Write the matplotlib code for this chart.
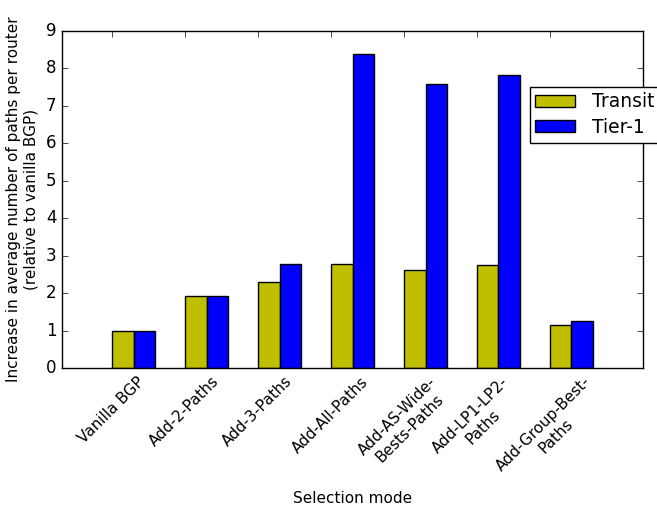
import matplotlib
matplotlib.use("Agg")
import matplotlib.pyplot as plt
import numpy as np

plt.style.use("classic")

modes = ["Vanilla BGP", "Add-2-Paths", "Add-3-Paths", "Add-All-Paths",
         "Add-AS-Wide-\nBests-Paths", "Add-LP1-LP2-\nPaths", "Add-Group-Best-\nPaths"]
transit = [1.00, 1.92, 2.29, 2.78, 2.62, 2.75, 1.15]
tier1 = [1.00, 1.94, 2.78, 8.39, 7.58, 7.83, 1.26]

width = 0.3
ind = np.arange(len(modes))

fig = plt.figure(figsize=(6.57, 5.08), dpi=100, facecolor="white")
ax = fig.add_axes([0.0944, 0.275, 0.8843, 0.6646])

ax.bar(ind, transit, width, align="edge", color="y", edgecolor="black", label="Transit")
ax.bar(ind + width, tier1, width, align="edge", color="b", edgecolor="black", label="Tier-1")

ax.set_xlim(-0.68, 7.28)
ax.set_ylim(0, 9)
ax.set_xticks(ind)
ax.set_xticklabels(modes, rotation=45, ha="center", fontsize=11)
ax.tick_params(axis="y", labelsize=12)
ax.set_xlabel("Selection mode", fontsize=11, labelpad=3)
ax.set_ylabel("Increase in average number of paths per router\n(relative to vanilla BGP)",
              fontsize=11)

leg = ax.legend(loc="upper left", bbox_to_anchor=(0.805, 0.834), fontsize=13.5,
                borderaxespad=0, borderpad=0.3, labelspacing=0.35,
                handlelength=2.1, handleheight=0.6, handletextpad=0.9)
leg.set_clip_on(False)

fig.savefig("out.png", dpi=100, facecolor="white")
